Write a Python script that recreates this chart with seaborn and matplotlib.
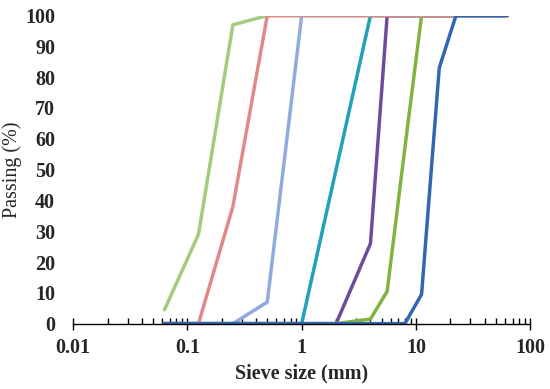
import matplotlib
matplotlib.use("Agg")
import matplotlib.pyplot as plt
import seaborn as sns
import pandas as pd
import numpy as np
from matplotlib.ticker import LogLocator

# Siebweiten (mm)
sieve = [0.063, 0.125, 0.25, 0.5, 1, 2, 4, 5.6, 8, 11.2, 16, 22.4, 63]

# Durchgang (%) je Kurve
light_green = [4.5, 29, 97, 100, 100, 100, 100, 100, 100, 100, 100, 100, 100]
light_red = [0, 0, 38, 100, 100, 100, 100, 100, 100, 100, 100, 100, 100]
light_blue = [0, 0, 0, 7, 100, 100, 100, 100, 100, 100, 100, 100, 100]
teal = [0, 0, 0, 0, 0, 50, 100, 100, 100, 100, 100, 100, 100]
purple = [0, 0, 0, 0, 0, 0, 26, 100, 100, 100, 100, 100, 100]
green = [0, 0, 0, 0, 0, 0, 1.5, 10.5, 57, 100, 100, 100, 100]
blue = [0, 0, 0, 0, 0, 0, 0, 0, 0, 9.5, 83, 100, 100]

series = {
    "light_green": light_green,
    "light_blue": light_blue,
    "teal": teal,
    "purple": purple,
    "green": green,
    "light_red": light_red,
    "blue": blue,
}
colors = {
    "light_green": "#A3CC7E",
    "light_red": "#E08A88",
    "light_blue": "#8FAADC",
    "teal": "#23A0BA",
    "purple": "#6E4C9C",
    "green": "#80B441",
    "blue": "#3566B2",
}

rows = []
for name, vals in series.items():
    for s, v in zip(sieve, vals):
        rows.append({"curve": name, "sieve": s, "passing": v})
df = pd.DataFrame(rows)

sns.set_style("white")
plt.rcParams["font.family"] = ["Liberation Serif", "DejaVu Serif"]

fig = plt.figure(figsize=(5.5, 3.89), dpi=100)
ax = fig.add_axes([0.133, 0.168, 0.831, 0.792])

for name in series:
    sns.lineplot(data=df[df["curve"] == name], x="sieve", y="passing",
                 color=colors[name], linewidth=2.5, ax=ax, legend=False,
                 sort=False, estimator=None)

ax.set_xscale("log")
ax.set_xlim(0.01, 100)
ax.set_ylim(0, 100)
ax.set_yticks(range(0, 101, 10))
ax.set_xticks([0.01, 0.1, 1, 10, 100])
ax.set_xticklabels(["0.01", "0.1", "1", "10", "100"])
ax.xaxis.set_minor_locator(LogLocator(base=10, subs=np.arange(2, 10)))

for side in ["top", "right", "left"]:
    ax.spines[side].set_visible(False)
ax.spines["bottom"].set_color("black")
ax.spines["bottom"].set_linewidth(1.0)

ax.tick_params(axis="x", which="major", direction="inout", length=9, width=1,
               color="black", labelsize=14.5, pad=6, bottom=True)
ax.tick_params(axis="x", which="minor", direction="in", length=4, width=1,
               color="black", bottom=True)
ax.tick_params(axis="y", length=0, labelsize=14.5, pad=13)
for lab in ax.get_xticklabels() + ax.get_yticklabels():
    lab.set_fontweight("bold")

ax.set_xlabel("Sieve size (mm)", fontsize=14.5, fontweight="bold", labelpad=4)
ax.set_ylabel("Passing (%)", fontsize=14.5, fontweight="normal", labelpad=2)
ax.grid(False)

fig.savefig("out.png", dpi=100)
plt.close(fig)
